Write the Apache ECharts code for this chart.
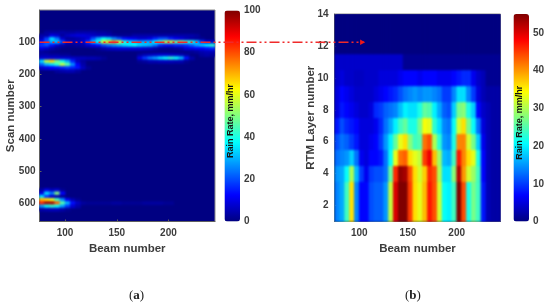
<!DOCTYPE html>
<html><head><meta charset="utf-8">
<style>html,body{margin:0;padding:0;background:#fff}#c{width:550px;height:306px}
canvas{filter:blur(.5px)}
canvas[data-zr-dom-id="zr_1"]{filter:blur(1.3px);clip-path:inset(10px 335px 84.5px 39.5px)}
canvas[data-zr-dom-id="zr_2"]{filter:blur(.8px);clip-path:inset(14px 49.5px 84.5px 334.5px)}
</style>
<script src="https://cdn.jsdelivr.net/npm/echarts@6/dist/echarts.min.js"></script></head>
<body><div id="c"></div>
<script>
// ---------- shared ----------
const beamStart = 75, beamStep = 5;
const jet = ['#000080','#0000ff','#0080ff','#00ffff','#80ff80','#ffff00','#ff8000','#ff0000','#800000'];
const beamTicks = [100,150,200];
const scanTicks = [100,200,300,400,500,600];
const layerTicks = [2,4,6,8,10,12,14];
const rainTicksA = [0,20,40,60,80,100];
const rainTicksB = [0,10,20,30,40,50];

// ---------- panel (a): rain rate by scan number; beams 75,80,... (unlisted scans are 0) ----------
const scan70  = [0,3,3,3,4,3,3,4,4,4,4,3,3,2,0,0,0,0,0,0,0,0,0,0,0,0,0,0,0,0,0,0,0,0];
const scan80  = [4,4,10,8,3,6,8,9,9,8,7,6,6,5,3,2,2,2,4,4,4,4,4,4,4,4,4,4,4,4,3,0,0,0];
const scan90  = [6,18,34,24,8,3,3,4,6,9,20,30,38,34,26,20,14,12,10,8,8,10,16,20,20,15,11,9,6,4,3,2,0,0];
const scan100 = [14,22,30,32,20,8,6,6,8,18,32,40,60,66,74,60,42,34,32,28,30,30,38,46,56,58,50,52,44,42,32,18,10,8];
const scan110 = [18,20,14,8,4,2,2,3,4,7,10,14,20,24,28,30,34,36,38,34,32,30,24,16,14,14,16,16,18,22,28,32,36,42];
const scan120 = [10,8,4,2,0,0,0,0,0,0,0,2,4,6,7,8,8,8,8,8,7,6,4,2,2,2,3,4,8,10,12,12,14,16];
const scan130 = [3,2,0,0,0,0,0,0,0,0,0,0,0,0,0,0,0,0,0,0,0,0,0,0,0,0,0,0,0,2,3,5,6,6];
const scan140 = [4,4,3,3,2,2,0,0,0,0,0,0,0,0,0,0,0,0,0,3,5,6,7,8,8,7,6,5,3,0,0,3,4,3];
const scan150 = [8,8,8,8,8,8,7,6,6,5,5,4,2,0,0,0,0,0,0,10,18,24,28,34,38,42,38,30,14,4,0,0,0,0];
const scan160 = [34,56,66,50,40,30,16,6,3,0,0,0,0,0,0,0,0,0,0,2,3,5,5,6,6,6,5,5,2,0,0,0,0,0];
const scan170 = [22,30,34,42,56,46,26,12,4,0,0,0,0,0,0,0,0,0,0,0,0,0,0,0,0,0,0,0,0,0,0,0,0,0];
const scan180 = [8,10,12,14,16,18,16,14,6,2,0,0,0,0,0,0,0,0,0,0,0,0,0,0,0,0,0,0,0,0,0,0,0,0];
const scan190 = [0,0,0,3,4,5,5,3,0,0,0,0,0,0,0,0,0,0,0,0,0,0,0,0,0,0,0,0,0,0,0,0,0,0];
const scan560 = [4,10,6,8,2,0,0,0,0,0,0,0,0,0,0,0,0,0,0,0,0,0,0,0,0,0,0,0,0,0,0,0,0,0];
const scan570 = [10,34,24,50,12,0,0,0,0,0,0,0,0,0,0,0,0,0,0,0,0,0,0,0,0,0,0,0,0,0,0,0,0,0];
const scan580 = [34,18,8,4,2,0,0,0,0,0,0,0,0,0,0,0,0,0,0,0,0,0,0,0,0,0,0,0,0,0,0,0,0,0];
const scan590 = [70,66,60,44,26,12,5,2,0,0,0,0,0,0,0,0,0,0,0,0,0,0,0,0,0,0,0,0,0,0,0,0,0,0];
const scan600 = [84,96,96,78,46,30,14,7,3,2,2,2,2,2,3,3,2,2,2,2,3,3,3,3,2,2,0,0,0,0,0,0,0,0];
const scan610 = [28,38,42,38,28,18,8,4,0,0,0,0,0,0,0,0,0,0,0,0,0,0,0,0,0,0,0,0,0,0,0,0,0,0];
const scan620 = [4,5,6,6,4,2,0,0,0,0,0,0,0,0,0,0,0,0,0,0,0,0,0,0,0,0,0,0,0,0,0,0,0,0];
const scanRows = [[70,scan70],[80,scan80],[90,scan90],[100,scan100],[110,scan110],[120,scan120],[130,scan130],
  [140,scan140],[150,scan150],[160,scan160],[170,scan170],[180,scan180],[190,scan190],
  [560,scan560],[570,scan570],[580,scan580],[590,scan590],[600,scan600],[610,scan610],[620,scan620]];
const scanHalf = 5;

// ---------- panel (b): rain rate by RTM layer band; beams 75,80,... ----------
const layers1to3 = [14,16,24,36,14,7,7,11,12,12,15,31,50,55,55,45,36,33,38,47,44,32,21,20,24,55,44,22,27,24,8,3,2,2];
const layer4  = [15,16,21,30,17,10,6,10,11,11,13,26,46,54,53,44,36,32,37,46,44,30,19,19,28,52,40,32,29,24,7,3,2,2];
const layer5  = [13,14,15,18,13,6,5,7,7,8,13,21,33,42,43,36,33,31,45,49,38,29,17,16,24,47,41,36,33,22,7,3,2,2];
const layer6  = [11,13,12,10,8,5,5,6,7,10,15,20,26,33,36,28,24,25,42,44,30,23,15,14,22,41,41,32,27,18,6,3,2,2];
const layer7  = [8,11,9,8,7,5,5,5,6,9,13,16,20,24,26,22,22,27,34,33,23,19,14,13,21,32,36,27,21,13,5,3,2,2];
const layer8  = [5,8,7,6,5,4,4,5,9,10,12,13,14,17,20,19,19,22,26,25,20,16,12,11,18,27,28,22,18,7,4,3,2,2];
const layer9  = [5,7,6,5,4,4,4,4,5,6,7,8,9,11,13,14,15,14,15,15,14,13,10,10,14,19,19,14,10,5,3,2,2,2];
const layer10 = [4,5,4,4,3.5,3.5,4,4,4,5,5,5,5,6,7,7,7,6,7,7,7,6,6,6,7,8,9,9,6,4,3,1,1,1];
const layer11 = [4,4,4,4,4,4,4,4,4,4,4,4,4,4,1,1,1,1,1,1,1,1,1,1,1,1,1,1,1,1,1,1,1,1];
const layers12to14 = [0,0,0,0,0,0,0,0,0,0,0,0,0,0,0,0,0,0,0,0,0,0,0,0,0,0,0,0,0,0,0,0,0,0];
const layerRows = [[1,3.5,layers1to3],[3.5,4.5,layer4],[4.5,5.5,layer5],[5.5,6.5,layer6],[6.5,7.5,layer7],
  [7.5,8.5,layer8],[8.5,9.5,layer9],[9.5,10.5,layer10],[10.5,11.5,layer11],[11.5,14,layers12to14]];

// ---------- build cells ----------
const cellsA = [];
scanRows.forEach(([scan, row]) => row.forEach((v, i) => {
  if (v > 0) cellsA.push([beamStart + i*beamStep, scan-scanHalf, v, beamStart + (i+1)*beamStep, scan+scanHalf]);
}));
const cellsB = [];
layerRows.forEach(([lo, hi, row]) => row.forEach((v, i) => {
  cellsB.push([beamStart + i*beamStep, lo, v, beamStart + (i+1)*beamStep, hi]);
}));

const renderCell = (params, api) => {
  const p0 = api.coord([api.value(0), api.value(1)]);
  const p1 = api.coord([api.value(3), api.value(4)]);
  return {type:'rect', shape:{x:Math.min(p0[0],p1[0])-0.3, y:Math.min(p0[1],p1[1])-0.3,
    width:Math.abs(p1[0]-p0[0])+0.6, height:Math.abs(p1[1]-p0[1])+0.6}, style:{fill: api.visual('color')}};
};

const ink = '#3c3c3c';
const labelFont = {fontFamily:'"Liberation Sans",Arial,sans-serif', fontWeight:'bold', fontSize:10, color:ink};
const nameFont = {fontFamily:'"Liberation Sans",Arial,sans-serif', fontWeight:'bold', fontSize:11.5, color:ink};
const frame = '#8a8a8a';
const axisLine = {show:true, onZero:false, lineStyle:{color:'#606060', width:1}};
const beamAxis = (grid, min, max) => ({type:'value', gridIndex:grid, min, max, splitLine:{show:false}, axisLine,
  axisTick:{show:true, inside:true, length:2, customValues:beamTicks, lineStyle:{color:'#606060'}},
  axisLabel:Object.assign({margin:7, customValues:beamTicks}, labelFont),
  name:'Beam number', nameLocation:'middle', nameGap:21, nameTextStyle:nameFont, nameMoveOverlap:false});
const barAxis = (grid, max, ticks) => ({type:'value', gridIndex:grid, position:'right', min:0, max, z:8, splitLine:{show:false},
  axisLine:{show:false}, axisTick:{show:false},
  axisLabel:Object.assign({margin:4, customValues:ticks}, labelFont),
  name:'Rain Rate, mm/hr', nameLocation:'middle', nameRotate:90, nameGap:-14, nameMoveOverlap:false,
  nameTextStyle:{fontFamily:'"Liberation Sans",Arial,sans-serif', fontWeight:'bold', fontSize:9, color:'#111', padding:[0,10,0,0]}});

const chart = echarts.init(document.getElementById('c'), null, {renderer:'canvas'});
chart.setOption({
  animation:false, backgroundColor:'#fff',
  grid:[
    {left:39.5, top:10, width:175.5, height:211.5, outerBoundsMode:'none', show:true, backgroundColor:'#000082', borderColor:frame, borderWidth:1},
    {left:334.5, top:14, width:166, height:207.5, outerBoundsMode:'none', show:true, backgroundColor:'#000082', borderColor:frame, borderWidth:1},
    {left:224.5, top:10.5, width:15.5, height:211, outerBoundsMode:'none'},
    {left:513.5, top:14, width:15.5, height:207.5, outerBoundsMode:'none'}
  ],
  xAxis:[beamAxis(0,75.3,245), beamAxis(1,74.6,245),
    {type:'value', gridIndex:2, show:false, min:0, max:1},
    {type:'value', gridIndex:3, show:false, min:0, max:1}],
  yAxis:[
    {type:'value', gridIndex:0, inverse:true, min:0, max:657, interval:100, splitLine:{show:false}, axisLine,
     axisTick:{show:true, inside:true, length:2, customValues:scanTicks, lineStyle:{color:'#606060'}},
     axisLabel:Object.assign({margin:4, customValues:scanTicks}, labelFont),
     name:'Scan number', nameLocation:'middle', nameGap:23, nameTextStyle:nameFont, nameMoveOverlap:false},
    {type:'value', gridIndex:1, min:1, max:14, splitLine:{show:false}, axisLine,
     axisTick:{show:true, inside:true, length:2, customValues:layerTicks, lineStyle:{color:'#606060'}},
     axisLabel:Object.assign({margin:6, customValues:layerTicks}, labelFont),
     name:'RTM Layer number', nameLocation:'middle', nameGap:18, nameTextStyle:nameFont, nameMoveOverlap:false},
    barAxis(2,100,rainTicksA),
    barAxis(3,55,rainTicksB)
  ],
  visualMap:[
    {type:'continuous', seriesIndex:0, dimension:2, min:0, max:100, calculable:false, inRange:{color:jet},
     left:224.5, top:10.5, itemWidth:15.5, itemHeight:211, padding:0, borderWidth:0, z:4},
    {type:'continuous', seriesIndex:1, dimension:2, min:0, max:55, calculable:false, inRange:{color:jet},
     left:513.5, top:14, itemWidth:15.5, itemHeight:207.5, padding:0, borderWidth:0, z:4}
  ],
  series:[
    {type:'custom', zlevel:1, xAxisIndex:0, yAxisIndex:0, data:cellsA, renderItem:renderCell, clip:false, encode:{x:[0,3],y:[1,4]}, silent:true},
    {type:'custom', zlevel:2, xAxisIndex:1, yAxisIndex:1, data:cellsB, renderItem:renderCell, clip:false, encode:{x:[0,3],y:[1,4]}, silent:true}
  ]
});

// Annotation: dash-dot arrow linking scan 100 of (a) to the layer axis of (b)
const from = chart.convertToPixel({gridIndex:0}, [75.3, 100]);
const to = chart.convertToPixel({gridIndex:1}, [105, 12.2]);
const serif = '"Liberation Serif",serif';
const tag = (letter, left) => ({type:'text', zlevel:5, left, top:289, style:{text:'{p|(}{b|'+letter+'}{p|)}', rich:{
    p:{fontFamily:serif, fontSize:13, fill:'#222'},
    b:{fontFamily:serif, fontSize:13, fontWeight:'bold', fill:'#222'}}}});
chart.setOption({graphic:[
  {type:'polyline', zlevel:5, shape:{points:[from,[to[0],from[1]]]},
   style:{stroke:'#f02a2a', lineWidth:1.5, lineDash:[10,3,2,3,2,3], fill:null}},
  {type:'polygon', zlevel:5, shape:{points:[[to[0]+1,from[1]],[to[0]-4,from[1]-2.8],[to[0]-4,from[1]+2.8]]}, style:{fill:'#f01818'}},
  tag('a',129), tag('b',405)
]});
</script></body></html>
